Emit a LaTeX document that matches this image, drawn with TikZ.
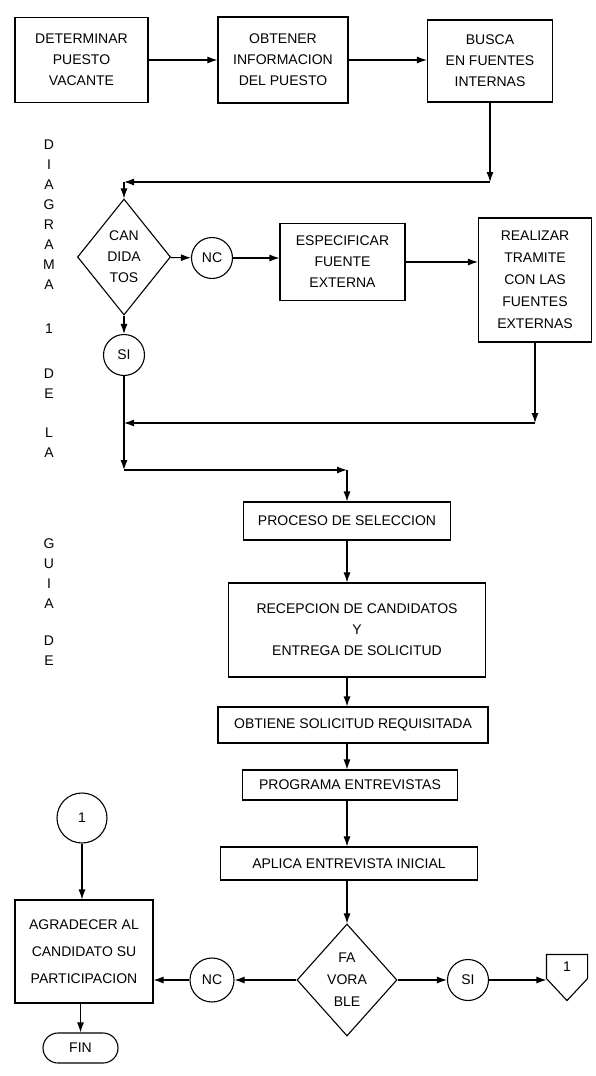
\documentclass[tikz,border=0pt]{standalone}
\usepackage{fontspec}
\setmainfont{Liberation Sans}
\usetikzlibrary{shapes.geometric, arrows.meta, calc}

\begin{document}
\begin{tikzpicture}[
    x=1pt, y=-1pt,
    >={Latex[length=10pt, width=7pt]},
    line width=1.1pt,
    font=\fontsize{14}{21}\selectfont,
    box/.style={draw, rectangle, align=center, inner sep=0pt},
    deci/.style={draw, diamond, aspect=0.8, align=center, inner sep=0pt},
    ans/.style={draw, circle, minimum size=41pt, inner sep=0pt},
    vlet/.style={align=center, font=\fontsize{14}{20}\selectfont}
]
\useasboundingbox (0,0) rectangle (595,1076);

% Top row
\node[box, minimum width=133pt, minimum height=85pt] (det) at (81.5,60) {DETERMINAR\\PUESTO\\VACANTE};
\node[box, minimum width=130pt, minimum height=86pt] (obt) at (283,60) {OBTENER\\INFORMACION\\DEL PUESTO};
\node[box, minimum width=125pt, minimum height=82pt] (bus) at (490,61) {BUSCA\\EN FUENTES\\INTERNAS};

% Side title
\node[vlet] (w1) at (49,215) {D\\I\\A\\G\\R\\A\\M\\A};
\node[vlet] (w2) at (49,329) {1};
\node[vlet] (w3) at (49,384) {D\\E};
\node[vlet] (w4) at (49,443) {L\\A};
\node[vlet] (w5) at (49,574) {G\\U\\I\\A};
\node[vlet] (w6) at (49,651) {D\\E};

% Candidates
\node[deci, minimum width=93pt, minimum height=116pt] (cand) at (124,257) {CAN\\DIDA\\TOS};
\node[ans] (nc1) at (212,258) {NC};
\node[ans] (si1) at (124,355) {SI};
\node[box, minimum width=125pt, minimum height=77pt] (esp) at (342.5,262) {ESPECIFICAR\\FUENTE\\EXTERNA};
\node[box, minimum width=113pt, minimum height=124pt, font=\fontsize{14}{22}\selectfont] (rea) at (535,280) {REALIZAR\\TRAMITE\\CON LAS\\FUENTES\\EXTERNAS};

% Selection column
\node[box, minimum width=207pt, minimum height=38pt] (proc) at (347,521) {PROCESO DE SELECCION};
\node[box, minimum width=257pt, minimum height=94pt] (rec) at (357,630) {RECEPCION DE CANDIDATOS\\Y\\ENTREGA DE SOLICITUD};
\node[box, minimum width=270pt, minimum height=36pt] (obti) at (353,725) {OBTIENE SOLICITUD REQUISITADA};
\node[box, minimum width=215pt, minimum height=30pt] (prog) at (350,785) {PROGRAMA ENTREVISTAS};
\node[box, minimum width=257pt, minimum height=33pt] (apl) at (349,863.5) {APLICA ENTREVISTA INICIAL};
\node[deci, minimum width=100pt, minimum height=112pt, font=\fontsize{14}{22}\selectfont] (fav) at (347,980) {FA\\VORA\\BLE};
\node[ans] (si2) at (468,980) {SI};
\node[minimum width=40pt, minimum height=23pt, inner sep=0pt] (con) at (567,966.5) {1};
\draw (con.north west) -- (con.north east) -- (con.south east) -- ($(con.south)+(0,22)$) -- (con.south west) -- cycle;

% Rejection branch
\node[ans, minimum size=44pt] (nc2) at (212,980) {NC};
\node[box, minimum width=138pt, minimum height=103pt, font=\fontsize{14}{27}\selectfont] (agr) at (84,951.5) {AGRADECER AL\\CANDIDATO SU\\PARTICIPACION};
\node[ans, minimum size=50pt] (one) at (82,818) {1};
\node[box, rounded corners=15pt, minimum width=75pt, minimum height=30pt] (fin) at (80.5,1048) {FIN};

% Corner points
\coordinate (b1) at (490,182);
\coordinate (b2) at (124,182);
\coordinate (r1) at (535,423);
\coordinate (r2) at (124,423);
\coordinate (s1) at (124,470);
\coordinate (s2) at (347,470);

% Connections top row
\draw[->] (det.east) -- (det.east -| obt.west);
\draw[->] (obt.east) -- (obt.east -| bus.west);
\draw[->] (bus) -- (b1);
\draw[->] (b1) -- (b2);
\draw[->] (b2) -- (cand);

% Connections candidates
\draw[->] (cand) -- (nc1);
\draw[->] (nc1.east) -- (nc1.east -| esp.west);
\draw[->] (esp.east) -- (esp.east -| rea.west);
\draw[->] (cand) -- (si1);
\draw[->] (rea) -- (r1);
\draw[->] (r1) -- (r2);
\draw[->] (si1) -- (s1);
\draw[->] (s1) -- (s2);
\draw[->] (s2) -- (proc);

% Connections selection column
\draw[->] (proc) -- (proc |- rec.north);
\draw[->] (rec.south -| fav) -- (obti.north -| fav);
\draw[->] (obti.south -| fav) -- (prog.north -| fav);
\draw[->] (prog.south -| fav) -- (apl.north -| fav);
\draw[->] (apl.south -| fav) -- (fav);
\draw[->] (fav) -- (si2);
\draw[->] (si2.east) -- (si2.east -| con.west);

% Connections rejection
\draw[->] (fav) -- (nc2);
\draw[->] (nc2.west) -- (nc2.west -| agr.east);
\draw[->] (one) -- (one |- agr.north);
\draw[->] (agr.south -| fin) -- (fin);

\end{tikzpicture}
\end{document}
